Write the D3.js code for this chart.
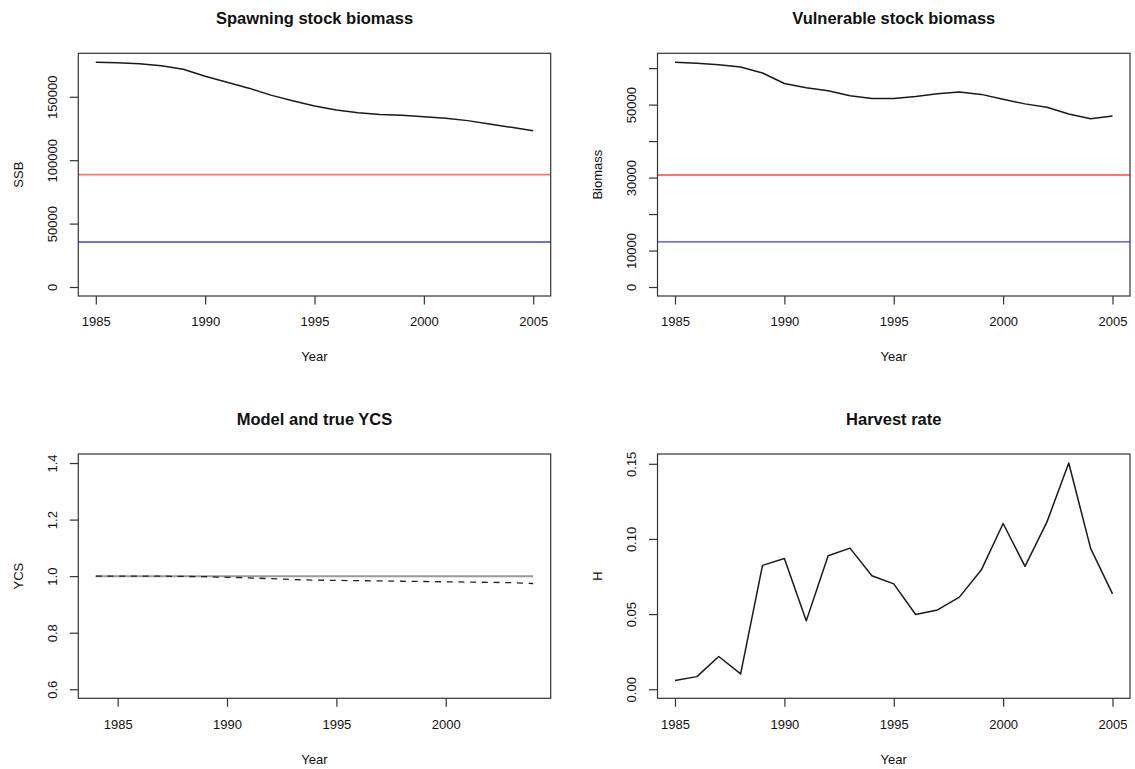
<!DOCTYPE html>
<html lang="en">
  <head>
    <meta charset="UTF-8" />
    <title>Stock assessment</title>
    <script src="https://cdn.jsdelivr.net/npm/d3@7"></script>
    <style>
      body { margin: 0; background: #fff; }
      text { font-family: 'Liberation Sans', Arial, Helvetica, sans-serif; fill: #111; }
    </style>
  </head>
  <body>
    <svg width="1135" height="769"></svg>
  </body>

  <script>
    // data
    var years = [1985, 1986, 1987, 1988, 1989, 1990, 1991, 1992, 1993, 1994, 1995,
                 1996, 1997, 1998, 1999, 2000, 2001, 2002, 2003, 2004, 2005];
    var ssb = [177200, 176900, 176100, 174500, 171700, 166200, 161500, 156800, 151300, 146900, 142700,
               139500, 137400, 136100, 135400, 134300, 133000, 131200, 128600, 125900, 123300];
    var ssbRef = [88600, 35500]; // red, blue

    var biomass = [61600, 61350, 60900, 60300, 58650, 55800, 54650, 53800, 52450, 51700, 51700,
                   52250, 53000, 53450, 52800, 51450, 50200, 49250, 47450, 46100, 46900];
    var biomassRef = [30700, 12350];

    var ycsYears = [1984, 1985, 1986, 1987, 1988, 1989, 1990, 1991, 1992, 1993, 1994,
                    1995, 1996, 1997, 1998, 1999, 2000, 2001, 2002, 2003, 2004];
    var ycsTrue = [1, 1, 1, 1, 1, 1, 1, 1, 1, 1, 1, 1, 1, 1, 1, 1, 1, 1, 1, 1, 1];
    var ycsModel = [1.000, 1.000, 1.000, 1.000, 0.999, 0.998, 0.996, 0.994, 0.991, 0.988, 0.986,
                    0.985, 0.984, 0.983, 0.982, 0.981, 0.980, 0.979, 0.978, 0.977, 0.974];

    var harvest = [0.0058, 0.0084, 0.0218, 0.0102, 0.0824, 0.0870, 0.0455, 0.0888, 0.0939, 0.0755, 0.0701,
                   0.0497, 0.0528, 0.0613, 0.0793, 0.1103, 0.0817, 0.1112, 0.1505, 0.0937, 0.0635];

    // tick values and the labels R kept
    var yearTicks = [1985, 1990, 1995, 2000, 2005];
    var ycsYearTicks = [1985, 1990, 1995, 2000];
    var ssbTicks = [0, 50000, 100000, 150000];
    var biomassTicks = [0, 10000, 20000, 30000, 40000, 50000, 60000];
    var biomassLabels = [0, 10000, 30000, 50000];
    var ycsTicks = [0.6, 0.8, 1.0, 1.2, 1.4];
    var hTicks = [0, 0.05, 0.1, 0.15];

    var svg = d3.select('svg');

    // pad a range by 4% on each side, like R does
    function padded(lo, hi) {
      var p = (hi - lo) * 0.04;
      return [lo - p, hi + p];
    }

    function panel(opt) {
      var box = opt.box;
      var x = d3.scaleLinear().domain(padded(opt.xlim[0], opt.xlim[1])).range([box.left, box.right]);
      var y = d3.scaleLinear().domain(padded(opt.ylim[0], opt.ylim[1])).range([box.bottom, box.top]);
      var g = svg.append('g');

      // reference lines
      (opt.hlines || []).forEach(function (h) {
        g.append('line')
          .attr('x1', box.left).attr('x2', box.right)
          .attr('y1', y(h.v)).attr('y2', y(h.v))
          .attr('stroke', h.color).attr('stroke-width', h.w);
      });

      // series
      opt.series.forEach(function (s) {
        var line = d3.line()
          .x(function (d, i) { return x(s.x[i]); })
          .y(function (d) { return y(d); });
        g.append('path')
          .datum(s.y)
          .attr('d', line)
          .attr('fill', 'none')
          .attr('stroke', s.color)
          .attr('stroke-width', s.w)
          .attr('stroke-dasharray', s.dash || null)
          .attr('stroke-linejoin', 'round');
      });

      // box
      g.append('rect')
        .attr('x', box.left).attr('y', box.top)
        .attr('width', box.right - box.left).attr('height', box.bottom - box.top)
        .attr('fill', 'none').attr('stroke', '#333').attr('stroke-width', 1.2);

      // x axis
      var ax = d3.axisBottom(x).tickValues(opt.xticks).tickSize(8.5).tickPadding(0).tickFormat(d3.format('d'));
      var gx = g.append('g').attr('transform', 'translate(0,' + box.bottom + ')').call(ax);
      gx.select('.domain').remove();
      gx.selectAll('line').attr('stroke', '#333').attr('stroke-width', 1.2);
      gx.selectAll('text')
        .attr('y', 25.7).attr('dy', '0.35em')
        .style('font-size', '13px').attr('fill', '#111');

      // y axis
      var ay = d3.axisLeft(y).tickValues(opt.yticks).tickSize(8.5).tickPadding(0)
        .tickFormat(function (d) {
          if (opt.ylabels && opt.ylabels.indexOf(d) < 0) return '';
          return opt.yfmt(d);
        });
      var gy = g.append('g').attr('transform', 'translate(' + box.left + ',0)').call(ay);
      gy.select('.domain').remove();
      gy.selectAll('line').attr('stroke', '#333').attr('stroke-width', 1.2);
      gy.selectAll('text')
        .attr('x', null).attr('dy', null)
        .attr('transform', 'translate(-25.6,0) rotate(-90)')
        .attr('text-anchor', 'middle')
        .attr('dominant-baseline', 'central')
        .style('font-size', '13px').attr('fill', '#111');

      // title and axis labels
      var cx = (box.left + box.right) / 2;
      g.append('text').attr('x', cx).attr('y', box.top - 35)
        .attr('text-anchor', 'middle').attr('dominant-baseline', 'central')
        .style('font-size', '16.5px').style('font-weight', 'bold')
        .text(opt.title);
      g.append('text').attr('x', cx).attr('y', box.bottom + 60.7)
        .attr('text-anchor', 'middle').attr('dominant-baseline', 'central')
        .style('font-size', '13px')
        .text('Year');
      g.append('text')
        .attr('transform', 'translate(' + (box.left - 60.3) + ',' + (box.top + box.bottom) / 2 + ') rotate(-90)')
        .attr('text-anchor', 'middle').attr('dominant-baseline', 'central')
        .style('font-size', '13px')
        .text(opt.ylab);
    }

    var leftCol = { left: 78.3, right: 550.7 };
    var rightCol = { left: 657.5, right: 1130 };
    var topRow = { top: 53.3, bottom: 296 };
    var botRow = { top: 454, bottom: 698.3 };
    function boxOf(c, r) { return { left: c.left, right: c.right, top: r.top, bottom: r.bottom }; }

    panel({
      box: boxOf(leftCol, topRow),
      title: 'Spawning stock biomass', ylab: 'SSB',
      xlim: [d3.min(years), d3.max(years)], ylim: [0, d3.max(ssb)],
      xticks: yearTicks, yticks: ssbTicks, yfmt: d3.format('d'),
      hlines: [{ v: ssbRef[0], color: '#ff7272', w: 1.8 }, { v: ssbRef[1], color: '#3b3bff', w: 1.3 }],
      series: [{ x: years, y: ssb, color: '#1a1a1a', w: 1.5 }]
    });

    panel({
      box: boxOf(rightCol, topRow),
      title: 'Vulnerable stock biomass', ylab: 'Biomass',
      xlim: [d3.min(years), d3.max(years)], ylim: [0, d3.max(biomass)],
      xticks: yearTicks, yticks: biomassTicks, ylabels: biomassLabels, yfmt: d3.format('d'),
      hlines: [{ v: biomassRef[0], color: '#ff7272', w: 1.8 }, { v: biomassRef[1], color: '#3b3bff', w: 1.3 }],
      series: [{ x: years, y: biomass, color: '#1a1a1a', w: 1.5 }]
    });

    panel({
      box: boxOf(leftCol, botRow),
      title: 'Model and true YCS', ylab: 'YCS',
      xlim: [d3.min(ycsYears), d3.max(ycsYears)], ylim: [0.6, 1.4],
      xticks: ycsYearTicks, yticks: ycsTicks, yfmt: d3.format('.1f'),
      series: [
        { x: ycsYears, y: ycsTrue, color: '#9a9a9a', w: 2 },
        { x: ycsYears, y: ycsModel, color: '#222', w: 1.3, dash: '6,5.7' }
      ]
    });

    panel({
      box: boxOf(rightCol, botRow),
      title: 'Harvest rate', ylab: 'H',
      xlim: [d3.min(years), d3.max(years)], ylim: [0, d3.max(harvest)],
      xticks: yearTicks, yticks: hTicks, yfmt: d3.format('.2f'),
      series: [{ x: years, y: harvest, color: '#1a1a1a', w: 1.5 }]
    });
  </script>
</html>
